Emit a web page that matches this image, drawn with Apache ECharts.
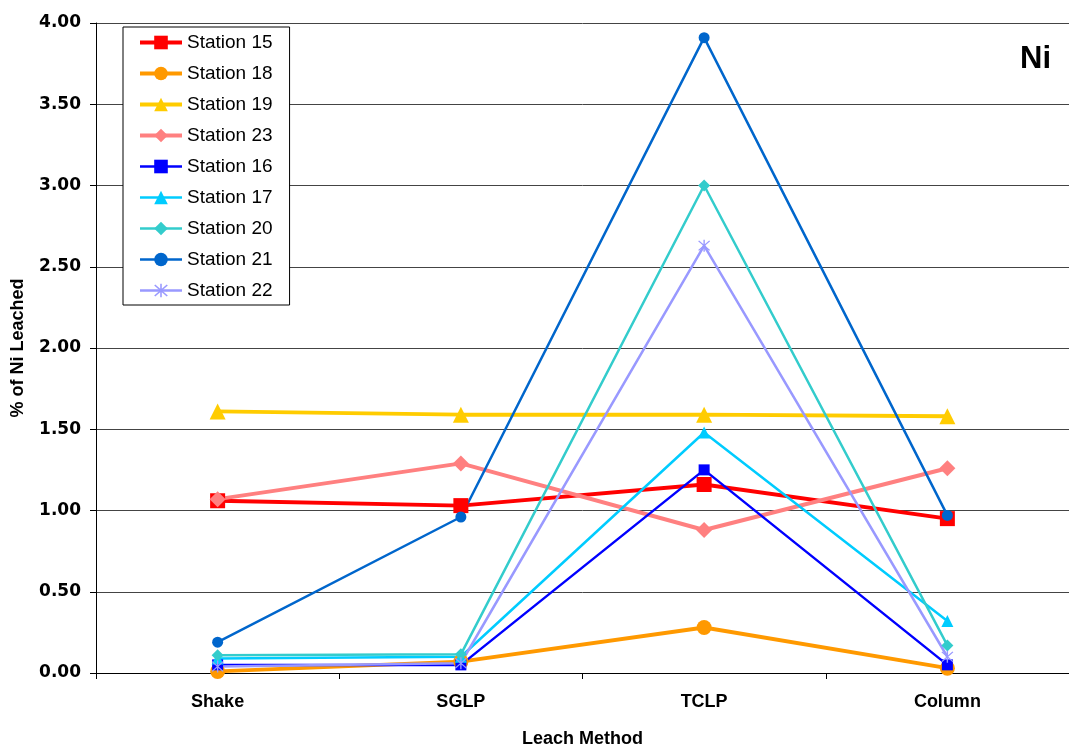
<!DOCTYPE html>
<html>
<head>
<meta charset="utf-8">
<script src="https://cdn.jsdelivr.net/npm/echarts@6/dist/echarts.min.js"></script>
<style>
  html, body { margin: 0; padding: 0; background: #fff; }
  #chart { width: 1069px; height: 753px; }
</style>
</head>
<body>
<div id="chart"></div>
<script>
// leach methods on the x axis
const methods = ["Shake", "SGLP", "TCLP", "Column"];
const yTicks = [0, 0.5, 1, 1.5, 2, 2.5, 3, 3.5, 4];

// % of Ni leached per station
const station15 = [1.06, 1.03, 1.16, 0.95];
const station18 = [0.01, 0.07, 0.28, 0.03];
const station19 = [1.61, 1.59, 1.59, 1.58];
const station23 = [1.07, 1.29, 0.88, 1.26];
const station16 = [0.05, 0.05, 1.25, 0.05];
const station17 = [0.09, 0.10, 1.48, 0.32];
const station20 = [0.11, 0.115, 3.00, 0.17];
const station21 = [0.19, 0.96, 3.91, 0.97];
const station22 = [0.04, 0.06, 2.63, 0.10];

// asterisk marker (vertical bar + X)
const starPath = "path://M9 0L11 0L11 20L9 20Z" +
  "M1.3 2.7L2.7 1.3L18.7 17.3L17.3 18.7Z" +
  "M17.3 1.3L18.7 2.7L2.7 18.7L1.3 17.3Z";

function line(name, data, color, symbol, size, width) {
  return {
    name: name,
    type: "line",
    data: data,
    symbol: symbol,
    symbolSize: size,
    showAllSymbol: true,
    lineStyle: { color: color, width: width },
    itemStyle: { color: color, borderWidth: 0 },
    emphasis: { disabled: true },
    animation: false,
  };
}

const chart = echarts.init(document.getElementById("chart"));
chart.setOption({
  backgroundColor: "#fff",
  title: {
    text: "Ni",
    right: 13,
    top: 39,
    textStyle: { fontFamily: "Liberation Sans, Arial", fontWeight: "bold", fontSize: 31, color: "#000" },
  },
  legend: {
    orient: "vertical",
    left: 123,
    top: 27,
    padding: [6, 17, 5, 15],
    itemWidth: 42,
    itemHeight: 17,
    itemGap: 12,
    backgroundColor: "#fff",
    borderColor: "#000",
    borderWidth: 1,
    lineStyle: { width: "inherit" },
    textStyle: { fontFamily: "Liberation Sans, Arial", fontSize: 19, color: "#000", lineHeight: 19 },
    data: ["Station 15", "Station 18", "Station 19", "Station 23", "Station 16",
      "Station 17", "Station 20", "Station 21", "Station 22"],
  },
  grid: { left: 96, right: -10, top: 23, bottom: 75, containLabel: false },
  xAxis: {
    type: "category",
    data: methods,
    boundaryGap: true,
    name: "Leach Method",
    nameLocation: "middle",
    nameGap: 57,
    nameTextStyle: { fontFamily: "Liberation Sans, Arial", fontWeight: "bold", fontSize: 18, color: "#000" },
    axisLine: { lineStyle: { color: "#000", width: 1 } },
    axisTick: { show: true, length: 6, lineStyle: { color: "#000" } },
    axisLabel: { margin: 20, fontFamily: "Liberation Sans, Arial", fontWeight: "bold", fontSize: 18, color: "#000" },
  },
  yAxis: {
    type: "value",
    min: 0,
    max: yTicks[yTicks.length - 1],
    interval: yTicks[1] - yTicks[0],
    name: "% of Ni Leached",
    nameLocation: "middle",
    nameGap: 69,
    nameTextStyle: { fontFamily: "Liberation Sans, Arial", fontWeight: "bold", fontSize: 18, color: "#000" },
    axisLine: { show: true, lineStyle: { color: "#000", width: 1 } },
    axisTick: { show: true, length: 6, lineStyle: { color: "#000" } },
    axisLabel: {
      margin: 15,
      fontFamily: "DejaVu Sans, Liberation Sans",
      fontWeight: "bold",
      fontSize: 17,
      color: "#000",
      formatter: (v) => v.toFixed(2),
    },
    splitLine: { show: true, lineStyle: { color: "#444", width: 1 } },
  },
  series: [
    line("Station 15", station15, "#FF0000", "rect", 15, 4),
    line("Station 18", station18, "#FF9900", "circle", 15, 4),
    line("Station 19", station19, "#FFCC00", "triangle", 16, 4),
    line("Station 23", station23, "#FF8080", "diamond", 16, 4),
    line("Station 16", station16, "#0000FF", "rect", 11, 2.5),
    line("Station 17", station17, "#00CCFF", "triangle", 12, 2.5),
    line("Station 20", station20, "#33CCCC", "diamond", 12, 2.5),
    line("Station 21", station21, "#0066CC", "circle", 11, 2.5),
    line("Station 22", station22, "#9999FF", starPath, 12, 2.5),
  ],
});
</script>
</body>
</html>
